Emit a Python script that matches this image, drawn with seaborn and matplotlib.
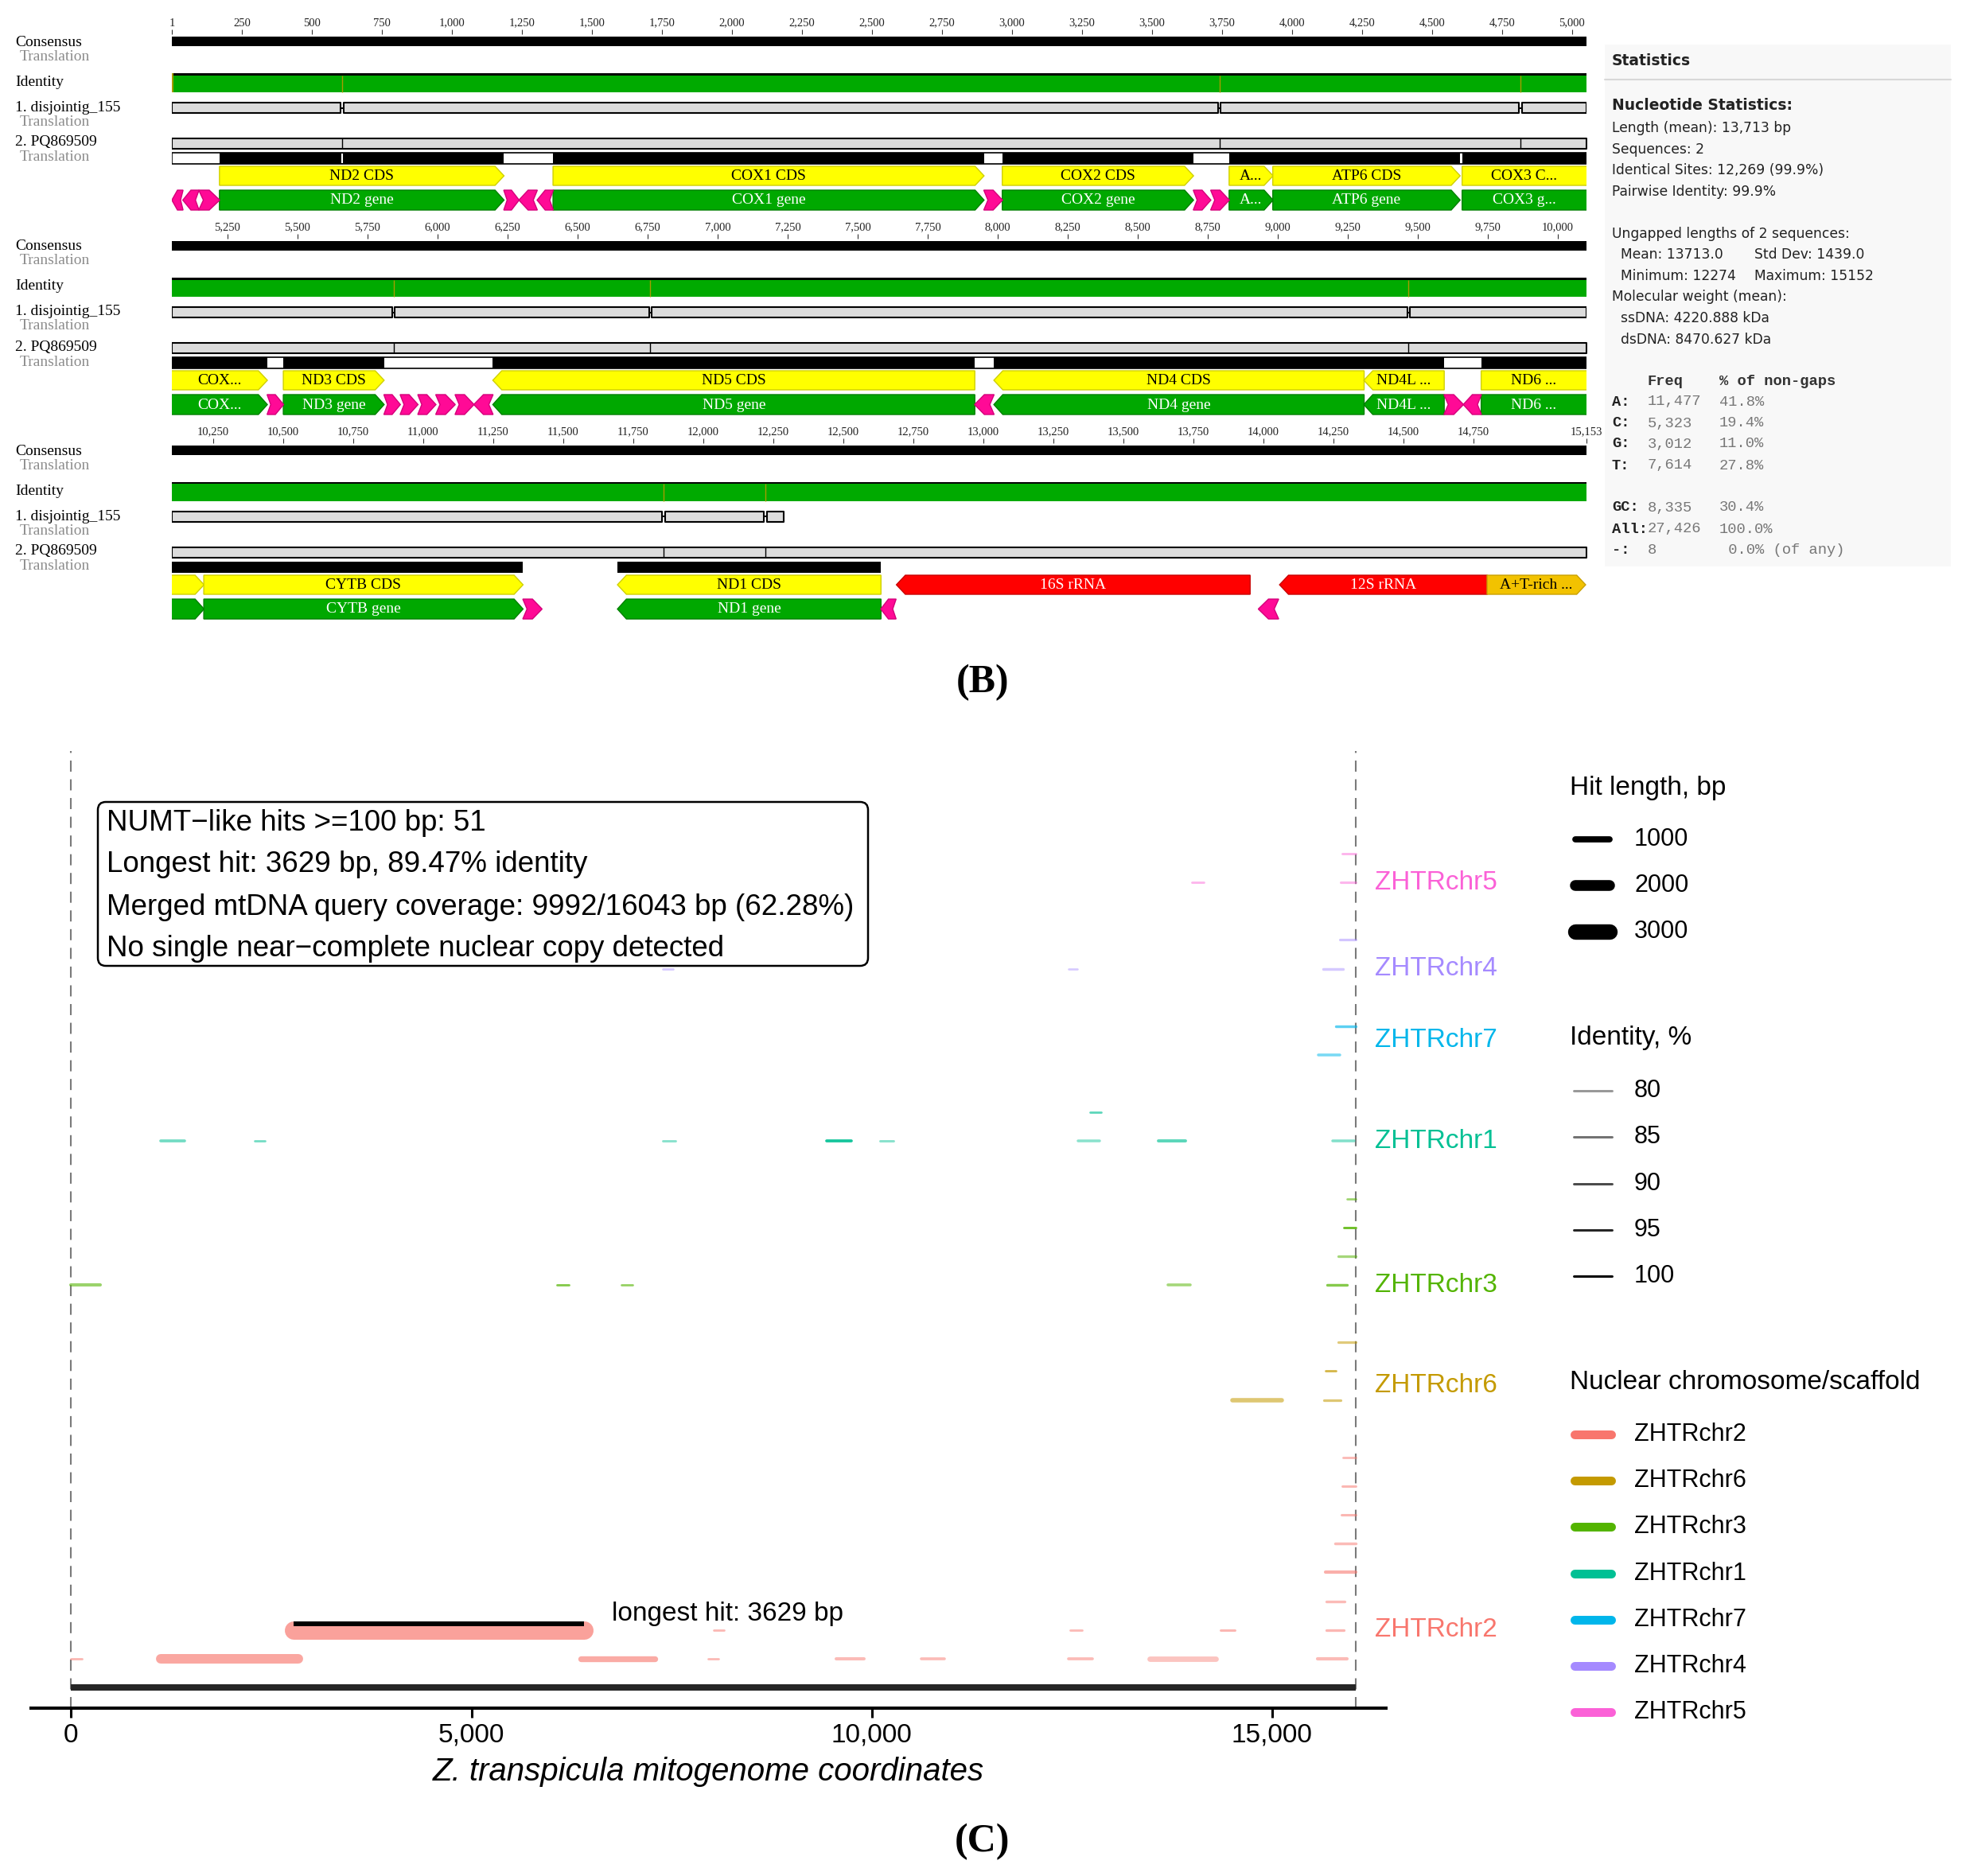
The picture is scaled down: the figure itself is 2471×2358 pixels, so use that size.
import numpy as np
import pandas as pd
import matplotlib
matplotlib.use("Agg")
import matplotlib.pyplot as plt
import seaborn as sns
from matplotlib.patches import Polygon, Rectangle, FancyBboxPatch
from matplotlib.lines import Line2D
from matplotlib.transforms import Affine2D
from matplotlib.colors import to_rgba

# ============================ DATA ============================
# ---- Panel B: alignment overview ----
ALN_LEN = 15153
ROW_LEN = 5051
ROW_STARTS = [1, 5052, 10103]
GAP_POS = [608, 3741, 4815, 5843, 6760, 9467, 11858, 12222]
TRANSL_BREAKS = [608]
SEQ1_END = 12286
LOW_ID_SPANS = [(1, 6)]
TRACK_LABELS = ["Consensus", "Translation", "Identity", "1. disjointig_155",
                "Translation", "2. PQ869509", "Translation"]

GENE_NAMES = ["ND2", "COX1", "COX2", "ATP8", "ATP6", "COX3", "ND3", "ND5",
              "ND4", "ND4L", "ND6", "CYTB", "ND1"]
GENE_START = [171, 1362, 2966, 3776, 3932, 4608, 5450, 6198, 7987, 9308, 9727, 10217, 11694]
GENE_END = [1186, 2900, 3648, 3932, 4600, 5392, 5809, 7918, 9308, 9594, 10217, 11356, 12634]
GENE_STRAND = [1, 1, 1, 1, 1, 1, 1, -1, -1, -1, 1, 1, -1]

TRNA_START = [1, 40, 97, 1186, 1240, 1305, 2900, 3648, 3710, 5392, 5809, 5867, 5930,
              5994, 6063, 6130, 7918, 9594, 9663, 11356, 12634, 13982]
TRNA_END = [40, 97, 171, 1240, 1305, 1362, 2966, 3710, 3776, 5450, 5867, 5930, 5994,
            6063, 6130, 6198, 7987, 9663, 9727, 11424, 12688, 14054]
TRNA_STRAND = [-1, -1, 1, 1, -1, -1, 1, 1, 1, 1, 1, 1, 1, 1, 1, -1, -1, 1, -1, 1, -1, -1]

RRNA_NAMES = ["16S rRNA", "12S rRNA"]
RRNA_START = [12690, 14058]
RRNA_END = [13952, 14799]
RRNA_STRAND = [-1, -1]

CR_NAME = "A+T-rich region"
CR_START, CR_END, CR_STRAND = 14799, 15150, 1

TRANSL_FRAMES = [(1, 11356), (11694, 12634)]

SHORT_LABELS = {
    ("COX3 CDS", 0): "COX3 C...", ("COX3 gene", 0): "COX3 g...",
    ("COX3 CDS", 1): "COX...", ("COX3 gene", 1): "COX...",
    ("ATP8 CDS", 0): "A...", ("ATP8 gene", 0): "A...",
    ("ND4L CDS", 1): "ND4L ...", ("ND4L gene", 1): "ND4L ...",
    ("ND6 CDS", 1): "ND6 ...", ("ND6 gene", 1): "ND6 ...",
    ("ND6 CDS", 2): "", ("ND6 gene", 2): "",
    ("A+T-rich region", 2): "A+T-rich ...",
}

STATS_BASIC = ["Length (mean): 13,713 bp", "Sequences: 2",
               "Identical Sites: 12,269 (99.9%)", "Pairwise Identity: 99.9%"]
STATS_UNGAP_TITLE = "Ungapped lengths of 2 sequences:"
STATS_UNGAP_L = ["Mean: 13713.0", "Minimum: 12274"]
STATS_UNGAP_R = ["Std Dev: 1439.0", "Maximum: 15152"]
STATS_MW_TITLE = "Molecular weight (mean):"
STATS_MW = ["ssDNA: 4220.888 kDa", "dsDNA: 8470.627 kDa"]
BASE_LABELS = ["A:", "C:", "G:", "T:"]
BASE_FREQ = ["11,477", "5,323", "3,012", "7,614"]
BASE_PCT = ["41.8%", "19.4%", "11.0%", "27.8%"]
SUM_LABELS = ["GC:", "All:", "-:"]
SUM_FREQ = ["8,335", "27,426", "8"]
SUM_PCT = ["30.4%", "100.0%", " 0.0% (of any)"]

# ---- Panel C: NUMT-like hits ----
MITO_LEN = 16043
CHROMS = ["ZHTRchr2", "ZHTRchr6", "ZHTRchr3", "ZHTRchr1", "ZHTRchr7", "ZHTRchr4", "ZHTRchr5"]
CHROM_COLORS = ["#F8766D", "#C49A00", "#53B400", "#00C094", "#00B6EB", "#A58AFF", "#FB61D7"]

HIT_CHROM = (["ZHTRchr2"] * 20 + ["ZHTRchr6"] * 4 + ["ZHTRchr3"] * 8 + ["ZHTRchr1"] * 9
             + ["ZHTRchr7"] * 2 + ["ZHTRchr4"] * 4 + ["ZHTRchr5"] * 3)
HIT_ROW = ([0] * 9 + [1] * 5 + [2, 3, 4, 5, 6, 7]
           + [0, 0, 1, 2]
           + [0] * 5 + [1, 2, 3]
           + [0] * 8 + [1]
           + [0, 1]
           + [0, 0, 0, 1]
           + [0, 0, 1])
HIT_START = ([0, 1120, 6365, 7960, 9555, 10620, 12460, 13470, 15565,
              2780, 8025, 12480, 14360, 15675,
              15675, 15670, 15785, 15865, 15875, 15885]
             + [14500, 15645, 15670, 15830]
             + [0, 6070, 6875, 13700, 15690, 15825, 15895, 15935]
             + [1120, 2290, 7390, 9440, 10100, 12580, 13580, 15760, 12730]
             + [15580, 15800]
             + [7390, 12460, 15640, 15845]
             + [14000, 15855, 15875])
HIT_END = ([135, 2840, 7290, 8080, 9905, 10910, 12760, 14300, 15940,
            6409, 8155, 12625, 14535, 15900,
            15905, 16043, 16043, 16043, 16043, 16043]
           + [15120, 15860, 15800, 16043]
           + [360, 6220, 7010, 13980, 15935, 16043, 16043, 16043]
           + [1420, 2420, 7550, 9745, 10270, 12840, 13920, 16020, 12860]
           + [15850, 16043]
           + [7520, 12570, 15890, 16043]
           + [14150, 16043, 16043])
HIT_IDENT = ([84, 88, 87, 84, 83, 83, 83, 81, 83,
              89.47, 84, 83, 84, 84,
              83, 86, 83, 84, 84, 83]
             + [85, 85, 91, 84]
             + [86, 90, 87, 84, 90, 84, 95, 86]
             + [85, 85, 82, 97, 82, 82, 88, 83, 88]
             + [84, 88]
             + [82, 82, 82, 83]
             + [82, 82, 82])
SIZE_BREAKS = [1000, 2000, 3000]
IDENT_BREAKS = [80, 85, 90, 95, 100]
X_TICKS = [0, 5000, 10000, 15000]
ANNOT_FIRST = "NUMT\u2212like hits >=100 bp: 51"
ANNOT_COVER = "Merged mtDNA query coverage: 9992/16043 bp (62.28%)"
ANNOT_LAST = "No single near\u2212complete nuclear copy detected"

# ============================ SETUP ============================
sns.set_theme(style="white")
plt.rcParams['font.family'] = ['Liberation Sans', 'DejaVu Sans']
plt.rcParams['text.color'] = 'black'
plt.rcParams['axes.labelcolor'] = 'black'
plt.rcParams['xtick.color'] = 'black'
plt.rcParams['patch.force_edgecolor'] = False

W, H = 2471, 2358
fig = plt.figure(figsize=(W / 100, H / 100), dpi=100)
fig.patch.set_facecolor('white')
PX = Affine2D().scale(1, -1).translate(0, H)   # pixel coords measured from top-left

SERIF = ['Liberation Serif', 'DejaVu Serif']
MONO = ['Liberation Mono', 'DejaVu Sans Mono']
STATF = ['DejaVu Sans']


def px_rect(x0, y0, x1, y1):
    return [x0 / W, 1 - y1 / H, (x1 - x0) / W, (y1 - y0) / H]


def ptext(x, y, s, **kw):
    kw.setdefault('va', 'center')
    return fig.text(x, y, s, transform=PX, **kw)


# ============================ PANEL B ============================
GREEN_ID = '#00aa00'
OLIVE = '#a89b00'
GRAY_SEQ = '#dcdcdc'

features = []
for n, s, e, st in zip(GENE_NAMES, GENE_START, GENE_END, GENE_STRAND):
    features.append(dict(label=f"{n} CDS", s=s, e=e, st=st, track='cds', fc='#ffff00', ec='#cfcf00', tc='black', kind='big'))
    features.append(dict(label=f"{n} gene", s=s, e=e, st=st, track='gene', fc='#00a800', ec='#007f00', tc='white', kind='big'))
for n, s, e, st in zip(RRNA_NAMES, RRNA_START, RRNA_END, RRNA_STRAND):
    features.append(dict(label=n, s=s, e=e, st=st, track='cds', fc='#ff0000', ec='#c80000', tc='white', kind='big'))
features.append(dict(label=CR_NAME, s=CR_START, e=CR_END, st=CR_STRAND, track='cds', fc='#f2c200', ec='#c9a000', tc='black', kind='big'))
for s, e, st in zip(TRNA_START, TRNA_END, TRNA_STRAND):
    features.append(dict(label="", s=s, e=e, st=st, track='gene', fc='#ff0a96', ec='#d4007a', tc='white', kind='trna'))

TRACK_Y = {'cds': (209, 233), 'gene': (239, 264)}


def feat_poly(s, e, st, y0, y1, tip, notch):
    ym = (y0 + y1) / 2
    s0, e0 = s - 0.5, e + 0.5
    if st > 0:
        return [(s0, y0), (e0 - tip, y0), (e0, ym), (e0 - tip, y1), (s0, y1), (s0 + notch, ym)]
    return [(e0, y0), (s0 + tip, y0), (s0, ym), (s0 + tip, y1), (e0, y1), (e0 - notch, ym)]


LABEL_X = [19, 25, 19, 19, 25, 19, 25]
LABEL_Y = [53, 71, 103, 135, 153, 179, 198]

for r, rs in enumerate(ROW_STARTS):
    off = 257 * r
    re_ = rs + ROW_LEN - 1
    ax = fig.add_axes(px_rect(216, 43 + off, 1994, 270 + off))
    ax.set_xlim(rs - 0.5, re_ + 0.5)
    ax.set_ylim(270, 43)
    for sp in ax.spines.values():
        sp.set_visible(False)
    ax.set_yticks([])
    ticks = list(range(250 * int(np.ceil(rs / 250)), re_ + 1, 250))
    if r == 0:
        ticks = [1] + ticks
    if re_ >= ALN_LEN:
        ticks = [t for t in ticks if ALN_LEN - t > 200] + [ALN_LEN]
    ax.set_xticks(ticks)
    ax.set_xticklabels([f"{t:,}" for t in ticks], fontsize=10.5, family=SERIF, color='#222222')
    ax.tick_params(axis='x', top=True, bottom=False, labeltop=True, labelbottom=False,
                   length=4.3, width=0.8, color='#333333', pad=1, direction='out')

    full = [(rs - 0.5, ROW_LEN)]
    gaps = [g for g in GAP_POS if rs <= g <= re_]
    # consensus
    ax.broken_barh(full, (46, 12), facecolors='black', edgecolors='none')
    # identity
    ax.broken_barh(full, (92, 2.5), facecolors='black', edgecolors='none')
    ax.broken_barh(full, (94.5, 21.5), facecolors=GREEN_ID, edgecolors='none')
    for a, b in LOW_ID_SPANS:
        if b >= rs and a <= re_:
            ax.broken_barh([(a - 0.5, b - a + 1)], (92, 24), facecolors=OLIVE, edgecolors='none')
    if gaps:
        ax.vlines(gaps, 94.5, 116, colors=OLIVE, lw=1.0)
    # sequence 1 (with gaps)
    end1 = min(re_, SEQ1_END)
    if end1 >= rs:
        pieces, cur = [], rs - 0.5
        for g in gaps:
            if g < end1:
                pieces.append((cur, g - 5 - cur))
                cur = g + 5
        pieces.append((cur, end1 + 0.5 - cur))
        ax.broken_barh(pieces, (129, 13), facecolors=GRAY_SEQ, edgecolors='black', linewidth=1.5)
        for g in gaps:
            if g < end1:
                ax.hlines(135.5, g - 6, g + 6, colors='black', lw=1.5)
    # sequence 2
    ax.broken_barh(full, (174, 13), facecolors=GRAY_SEQ, edgecolors='black', linewidth=1.5)
    if gaps:
        ax.vlines(gaps, 174, 187, colors='black', lw=1.0)
    # translation
    frames = [(a - 0.5, b - a + 1) for a, b in TRANSL_FRAMES if b >= rs and a <= re_]
    if r < 2 and frames:
        ax.broken_barh(frames, (192, 14), facecolors='white', edgecolors='black', linewidth=1.2)
    cds = [(s - 0.5, e - s + 1) for s, e in zip(GENE_START, GENE_END) if e >= rs and s <= re_]
    ax.broken_barh(cds, (192, 14), facecolors='black', edgecolors='none')
    tg = [g for g in TRANSL_BREAKS if rs <= g <= re_]
    if tg:
        ax.vlines(tg, 193, 205, colors='white', lw=1.5)
    # annotations
    for f in features:
        if f['e'] < rs or f['s'] > re_:
            continue
        y0, y1 = TRACK_Y[f['track']]
        ln = f['e'] - f['s'] + 1
        if f['kind'] == 'trna':
            tip, notch = 0.5 * ln, 0.22 * ln
        else:
            tip, notch = min(32, 0.3 * ln), 0
        poly = Polygon(feat_poly(f['s'], f['e'], f['st'], y0, y1, tip, notch), closed=True,
                       facecolor=f['fc'], edgecolor=f['ec'], linewidth=1.0)
        ax.add_patch(poly)
        lab = SHORT_LABELS.get((f['label'], r), f['label'])
        if lab:
            a = max(f['s'], rs - 0.5)
            b = min(f['e'], re_ + 0.5)
            ax.text((a + b) / 2, (y0 + y1) / 2 + 0.5, lab, ha='center', va='center',
                    fontsize=14, family=SERIF, color=f['tc'], clip_on=True)
    # left labels
    for lab, lx, ly in zip(TRACK_LABELS, LABEL_X, LABEL_Y):
        ptext(lx, ly + off, lab, ha='left', fontsize=14, family=SERIF,
              color='#8c8c8c' if lab == 'Translation' else 'black')

# statistics panel
fig.add_artist(Rectangle((2017, 56), 435, 656, transform=PX, facecolor='#f8f8f8', edgecolor='none'))
fig.add_artist(Line2D([2017, 2452], [100, 100], transform=PX, color='#d8d8d8', lw=1.5))
ptext(2026, 77, "Statistics", ha='left', fontsize=13.5, fontweight='bold', family=STATF, color='#222222')
ptext(2026, 132, "Nucleotide Statistics:", ha='left', fontsize=13.5, fontweight='bold', family=STATF, color='#222222')
for i, s in enumerate(STATS_BASIC):
    ptext(2026, 161 + 26.7 * i, s, ha='left', fontsize=12.3, family=STATF, color='#222222')
ptext(2026, 294, STATS_UNGAP_TITLE, ha='left', fontsize=12.3, family=STATF, color='#222222')
for i, (a, b) in enumerate(zip(STATS_UNGAP_L, STATS_UNGAP_R)):
    ptext(2037, 320 + 26.5 * i, a, ha='left', fontsize=12.3, family=STATF, color='#222222')
    ptext(2205, 320 + 26.5 * i, b, ha='left', fontsize=12.3, family=STATF, color='#222222')
ptext(2026, 373, STATS_MW_TITLE, ha='left', fontsize=12.3, family=STATF, color='#222222')
for i, s in enumerate(STATS_MW):
    ptext(2037, 400 + 26.5 * i, s, ha='left', fontsize=12.3, family=STATF, color='#222222')
ptext(2071, 479, "Freq", ha='left', fontsize=13.5, family=MONO, fontweight='bold', color='#333333')
ptext(2161, 479, "% of non-gaps", ha='left', fontsize=13.5, family=MONO, fontweight='bold', color='#333333')
rows_y = [505, 532, 558, 585]
for y, l, fq, pc in zip(rows_y, BASE_LABELS, BASE_FREQ, BASE_PCT):
    ptext(2026, y, l, ha='left', fontsize=13.5, family=MONO, fontweight='bold', color='#222222')
    ptext(2071, y, fq, ha='left', fontsize=13.5, family=MONO, color='#777777')
    ptext(2161, y, pc, ha='left', fontsize=13.5, family=MONO, color='#777777')
for y, l, fq, pc in zip([638, 665, 691], SUM_LABELS, SUM_FREQ, SUM_PCT):
    ptext(2026, y, l, ha='left', fontsize=13.5, family=MONO, fontweight='bold', color='#222222')
    ptext(2071, y, fq, ha='left', fontsize=13.5, family=MONO, color='#777777')
    ptext(2161, y, pc, ha='left', fontsize=13.5, family=MONO, color='#777777')

ptext(1235, 858, "(B)", ha='center', fontsize=36, fontweight='bold', family=SERIF)

# ============================ PANEL C ============================
df = pd.DataFrame({"chrom": HIT_CHROM, "row": HIT_ROW, "start": HIT_START,
                   "end": HIT_END, "ident": HIT_IDENT})
df["length"] = df["end"] - df["start"]
nrows = df.groupby("chrom")["row"].max() + 1
base, cur = {}, 1
for c in CHROMS:
    base[c] = cur
    cur += int(nrows[c]) + 1
df["lane"] = df["chrom"].map(base) + df["row"]
pal = dict(zip(CHROMS, sns.color_palette(CHROM_COLORS)))


def id_alpha(v):
    return np.clip(0.4 + 0.6 * (np.asarray(v, float) - 80) / 20, 0.3, 1.0)


def len_lw(L):
    return (2.0 + 0.0058 * np.asarray(L, float)) * 0.72


axc = fig.add_axes(px_rect(39, 944, 1742, 2147))
axc.set_xlim(-501, 16422)
axc.set_ylim(-0.72, 32.57)
axc.set_facecolor('white')
for k in ['left', 'right', 'top']:
    axc.spines[k].set_visible(False)
axc.spines['bottom'].set_color('black')
axc.spines['bottom'].set_linewidth(2.9)
axc.set_yticks([])
axc.set_xticks(X_TICKS)
axc.set_xticklabels([f"{t:,}" for t in X_TICKS])
axc.tick_params(axis='x', bottom=True, length=8.6, width=2.2, labelsize=24, pad=5, color='black')

for xv in [0, MITO_LEN]:
    axc.axvline(xv, color='#7a7a7a', lw=1.5, ls=(0, (6.7, 4.6)), zorder=1)
axc.hlines(0, 0, MITO_LEN, colors='#262626', linewidth=8 * 0.72, zorder=2)

cols = [to_rgba(pal[c], float(id_alpha(v))) for c, v in zip(df.chrom, df.ident)]
lc = axc.hlines(df.lane, df.start, df.end, colors=cols, linewidths=len_lw(df.length), zorder=3)
lc.set_capstyle('round')

top = df.loc[df.length.idxmax()]
axc.hlines(top.lane + 0.22, top.start, top.end, colors='black', linewidth=6 * 0.72, zorder=4)
axc.text(top.end + 340, top.lane + 0.55, f"longest hit: {int(top.length)} bp", fontsize=24,
         ha='left', va='center', zorder=5)

for c in CHROMS:
    axc.text(16284, df.loc[df.chrom == c, 'lane'].median(), c, color=pal[c], fontsize=24,
             ha='left', va='center', clip_on=False)

axc.set_xlabel("Z. transpicula mitogenome coordinates", fontsize=29, style='italic')
axc.xaxis.set_label_coords(0.5, -(2227 - 2147) / 1203)
axc.xaxis.label.set_va('center')

# annotation box
fig.add_artist(FancyBboxPatch((123, 1008), 968, 206, boxstyle='round,pad=0,rounding_size=10',
                              transform=PX, facecolor='white', edgecolor='black', lw=1.8, zorder=5))
annot = [ANNOT_FIRST,
         f"Longest hit: {int(top.length)} bp, {top.ident:.2f}% identity",
         ANNOT_COVER, ANNOT_LAST]
for i, s in enumerate(annot):
    t = ptext(134, 1034 + 53 * i, s, ha='left', fontsize=26.5)
    t.set_zorder(6)

# legends
def leg_line(x0, x1, y, lw_pt, color, alpha=1.0):
    fig.add_artist(Line2D([x0, x1], [y, y], transform=PX, lw=lw_pt, color=color,
                          alpha=alpha, solid_capstyle='round'))


ptext(1973, 990, "Hit length, bp", ha='left', fontsize=24)
for y, b in zip([1055, 1113, 1171], SIZE_BREAKS):
    leg_line(1980, 2023, y, float(len_lw(b)), 'black')
    ptext(2054, y, str(b), ha='left', fontsize=22)
ptext(1973, 1305, "Identity, %", ha='left', fontsize=24)
for y, b in zip([1371, 1429, 1488, 1546, 1604], IDENT_BREAKS):
    leg_line(1978, 2026, y, 3 * 0.72, 'black', float(id_alpha(b)))
    ptext(2054, y, str(b), ha='left', fontsize=22)
ptext(1973, 1738, "Nuclear chromosome/scaffold", ha='left', fontsize=24)
for i, c in enumerate(CHROMS):
    y = 1803 + 58.2 * i
    leg_line(1979, 2025, y, 11 * 0.72, pal[c])
    ptext(2054, y, c, ha='left', fontsize=22)

ptext(1235, 2315, "(C)", ha='center', fontsize=36, fontweight='bold', family=SERIF)

fig.savefig("out.png", dpi=100, facecolor='white')
